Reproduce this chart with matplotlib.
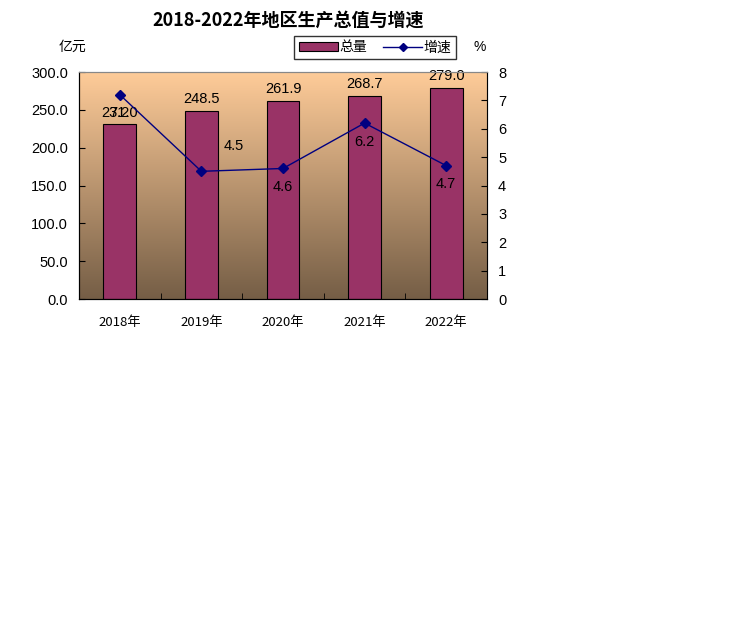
import matplotlib
matplotlib.use("Agg")

import matplotlib.pyplot as plt
import numpy as np
from matplotlib.lines import Line2D
from matplotlib.patches import Patch

plt.rcParams["font.family"] = ["Liberation Sans", "Noto Sans CJK SC", "DejaVu Sans"]

years = ["2018年", "2019年", "2020年", "2021年", "2022年"]
totals = [231.0, 248.5, 261.9, 268.7, 279.0]
growth = [7.2, 4.5, 4.6, 6.2, 4.7]

BAR_COLOR = "#993366"
LINE_COLOR = "#000080"
CJK = ["Noto Sans CJK SC", "DejaVu Sans"]

W, H = 756, 624
fig = plt.figure(figsize=(W / 100, H / 100), dpi=100)

# plot area in pixels: left 79, right 487, top 72, bottom 299
left, right, top, bottom = 79, 487, 72, 299
ax = fig.add_axes([left / W, 1 - bottom / H, (right - left) / W, (bottom - top) / H])

# gradient background, peach at the top to brown at the bottom
grad = np.linspace(0, 1, 256).reshape(-1, 1)
c_top = np.array([255, 204, 153]) / 255
c_bot = np.array([117, 94, 70]) / 255
img = c_top[None, None, :] * (1 - grad[:, :, None]) + c_bot[None, None, :] * grad[:, :, None]
ax.imshow(img, extent=[-0.5, 4.5, 0, 300], aspect="auto", zorder=0, origin="upper")

x = np.arange(len(years))
ax.bar(x, totals, width=0.4, color=BAR_COLOR, edgecolor="black", linewidth=0.8, zorder=2)
ax.set_xlim(-0.5, 4.5)
ax.set_ylim(0, 300)
ax.set_yticks(np.arange(0, 301, 50))
ax.set_yticklabels([f"{v:.1f}" for v in np.arange(0, 301, 50)], fontsize=10.5)
ax.set_xticks(x)
ax.set_xticklabels(years, fontsize=9.5, family=CJK)
ax.set_xticks(np.arange(0.5, 4.5, 1), minor=True)
ax.tick_params(axis="x", which="major", length=0, pad=12)
ax.tick_params(axis="x", which="minor", length=4, direction="in")
ax.tick_params(axis="y", direction="in", length=4, pad=8)
for sp in ["top", "right"]:
    ax.spines[sp].set_color("#888888")

for xi, v in zip(x, totals):
    ax.text(xi, v + 6, f"{v:.1f}", ha="center", va="bottom", fontsize=10.5, zorder=4)

ax2 = ax.twinx()
ax2.plot(x, growth, color=LINE_COLOR, lw=1, marker="D", markersize=5, zorder=3)
ax2.set_ylim(0, 8)
ax2.set_yticks(range(0, 9))
ax2.tick_params(axis="y", direction="in", length=4, pad=8, labelsize=10.5)
ax2.spines["top"].set_color("#888888")

offsets = [(0, -0.65), (0.4, 0.9), (0, -0.65), (0, -0.65), (0, -0.65)]
for xi, v, (dx, dy) in zip(x, growth, offsets):
    ax2.text(xi + dx, v + dy, f"{v:.1f}", ha="center", va="center", fontsize=10.5, zorder=4)

fig.text(288 / W, 1 - 20 / H, "2018-2022年地区生产总值与增速", ha="center", va="center",
         fontsize=13, fontweight="bold", family=CJK)
fig.text(72 / W, 1 - 47 / H, "亿元", ha="center", va="center", fontsize=10, family=CJK)
fig.text(480 / W, 1 - 47 / H, "%", ha="center", va="center", fontsize=10)

handles = [Patch(facecolor=BAR_COLOR, edgecolor="black", linewidth=0.8),
           Line2D([0], [0], color=LINE_COLOR, lw=1, marker="D", markersize=4)]
leg = fig.legend(handles, ["总量", "增速"], loc="center", bbox_to_anchor=(375 / W, 1 - 47.5 / H),
                 ncol=2, frameon=True, fancybox=False, edgecolor="black",
                 prop={"family": CJK, "size": 10},
                 handlelength=2.8, handletextpad=0.1, columnspacing=1.2,
                 borderpad=0.3, handleheight=0.6)
leg.get_frame().set_linewidth(1)

fig.savefig("out.png", dpi=100)
